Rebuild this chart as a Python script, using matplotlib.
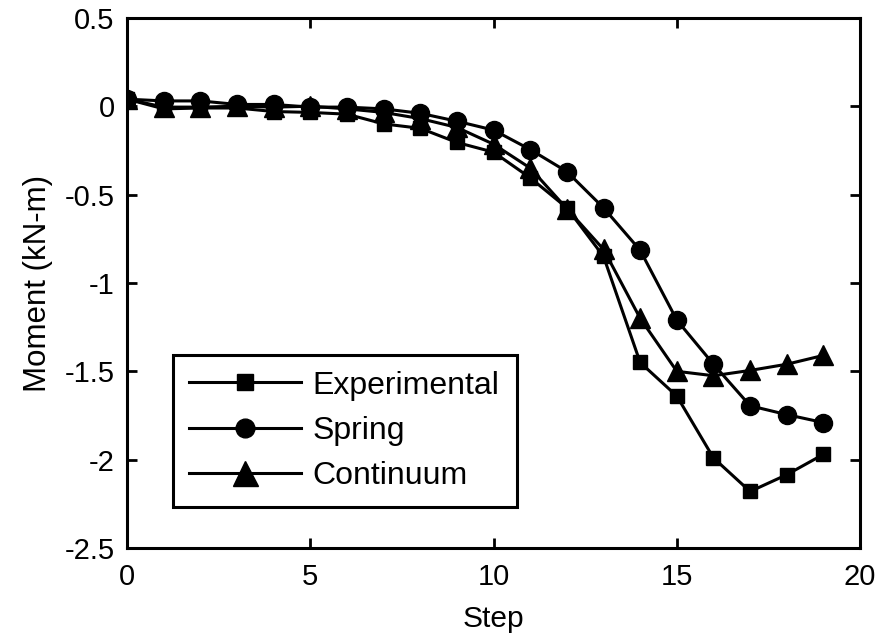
import numpy as np
import matplotlib
matplotlib.use("Agg")
import matplotlib.pyplot as plt

plt.rcParams["font.family"] = ["Liberation Sans", "DejaVu Sans"]

steps = list(range(20))
experimental = [0.04, -0.015, -0.01, -0.01, -0.03, -0.035, -0.045, -0.1, -0.125,
                -0.205, -0.26, -0.405, -0.575, -0.85, -1.45, -1.64, -1.99, -2.18,
                -2.085, -1.97]
spring = [0.04, 0.03, 0.03, 0.01, 0.01, -0.005, -0.005, -0.015, -0.04, -0.085,
          -0.135, -0.245, -0.37, -0.575, -0.815, -1.21, -1.46, -1.695, -1.745,
          -1.79]
continuum = [0.04, -0.005, -0.005, 0.0, -0.005, 0.0, -0.015, -0.035, -0.07, -0.12,
             -0.215, -0.35, -0.58, -0.81, -1.2, -1.5, -1.525, -1.495, -1.46, -1.41]

fig = plt.figure(figsize=(8.83, 6.38), dpi=100)
ax = fig.add_axes([0.144, 0.141, 0.83, 0.831])

ax.plot(steps, experimental, color="black", lw=2.2, marker="s", ms=10, label="Experimental")
ax.plot(steps, spring, color="black", lw=2.2, marker="o", ms=13, label="Spring")
ax.plot(steps, continuum, color="black", lw=2.2, marker="^", ms=14.5, label="Continuum")

ax.set_xlim(0, 20)
ax.set_ylim(-2.5, 0.5)
ax.set_xticks([0, 5, 10, 15, 20])
ax.set_yticks([-2.5, -2, -1.5, -1, -0.5, 0, 0.5])
ax.set_yticklabels(["-2.5", "-2", "-1.5", "-1", "-0.5", "0", "0.5"])
ax.tick_params(direction="in", length=7, width=2, labelsize=21,
               top=True, right=True, pad=9)
ax.tick_params(axis="x", pad=11)
for s in ax.spines.values():
    s.set_linewidth(2.2)

ax.set_xlabel("Step", fontsize=21.5, labelpad=10)
ax.set_ylabel("Moment (kN-m)", fontsize=22.5, labelpad=8)

leg = ax.legend(loc="lower left", bbox_to_anchor=(0.063, 0.077, 0.469, 0.291),
                mode="expand", fontsize=23, fancybox=False, framealpha=1,
                edgecolor="black", handlelength=3.5, borderaxespad=0,
                borderpad=0.5, labelspacing=0.48, handletextpad=0.35)
leg.get_frame().set_linewidth(2.2)
for h, ms in zip(leg.legend_handles, [11, 13.5, 18]):
    h.set_markersize(ms)

fig.savefig("out.png", dpi=100)
